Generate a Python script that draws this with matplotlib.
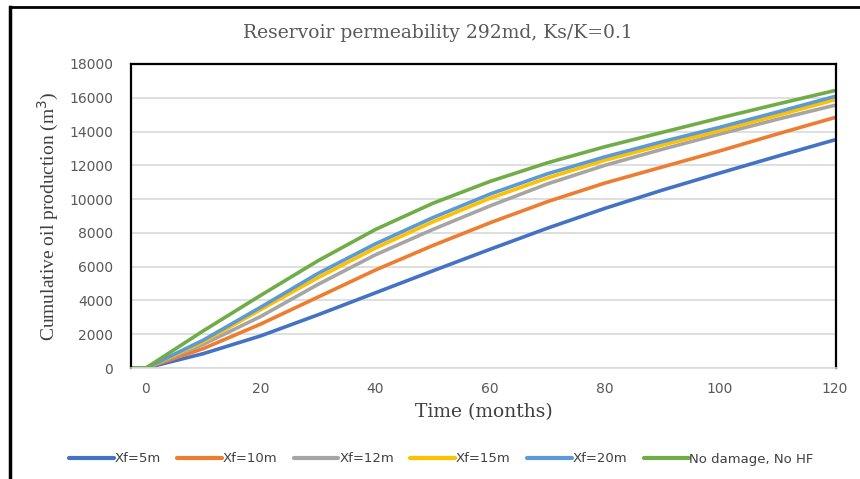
import matplotlib
matplotlib.use("Agg")
import matplotlib.pyplot as plt
from matplotlib.lines import Line2D

time = [-2.6, 0, 10, 20, 30, 40, 50, 60, 70, 80, 90, 100, 110, 120]
xf5 = [0, 0, 850, 1900, 3150, 4450, 5750, 7030, 8280, 9450, 10530, 11540, 12530, 13500]
xf10 = [0, 0, 1150, 2600, 4200, 5800, 7250, 8600, 9850, 10950, 11900, 12850, 13850, 14820]
xf12 = [0, 0, 1400, 3050, 4950, 6700, 8200, 9600, 10900, 12000, 12950, 13850, 14720, 15550]
xf15 = [0, 0, 1550, 3450, 5350, 7100, 8650, 10050, 11250, 12300, 13200, 14050, 14950, 15870]
xf20 = [0, 0, 1650, 3600, 5600, 7350, 8900, 10300, 11500, 12500, 13400, 14250, 15150, 16070]
nodmg = [0, 0, 2200, 4300, 6350, 8200, 9750, 11050, 12150, 13100, 13950, 14800, 15620, 16420]

labels = ["Xf=5m", "Xf=10m", "Xf=12m", "Xf=15m", "Xf=20m", "No damage, No HF"]
colors = ["#4472C4", "#ED7D31", "#A5A5A5", "#FFC000", "#5B9BD5", "#70AD47"]
series = [xf5, xf10, xf12, xf15, xf20, nodmg]
xticks = [0, 20, 40, 60, 80, 100, 120]
yticks = list(range(0, 18001, 2000))

fig = plt.figure(figsize=(8.6, 4.79), dpi=100)
ax = fig.add_axes([131/860, 1-368/479, (836-131)/860, (368-64)/479])

for y, c, lab in zip(series, colors, labels):
    ax.plot(time, y, color=c, lw=2.6, label=lab, solid_capstyle="round")

ax.set_xlim(-2.6, 120.3)
ax.set_ylim(0, 18000)
ax.set_xticks(xticks)
ax.set_yticks(yticks)
ax.grid(axis="y", color="#d9d9d9", lw=1.2)
ax.set_axisbelow(True)
ax.tick_params(length=0, colors="#595959", labelsize=10)
for lab in ax.get_xticklabels() + ax.get_yticklabels():
    lab.set_family("DejaVu Sans")
ax.tick_params(axis="x", pad=10)
ax.tick_params(axis="y", pad=13)
for s in ["left", "top", "right"]:
    ax.spines[s].set_color("black")
    ax.spines[s].set_linewidth(1.6)
ax.spines["bottom"].set_color("#d9d9d9")
ax.spines["bottom"].set_linewidth(1.2)

ax.set_xlabel("Time (months)", family="DejaVu Serif", fontsize=13.5, color="#404040", labelpad=5)
ax.set_ylabel("Cumulative oil production (m$^3$)", family="Liberation Serif", fontsize=14,
              color="#404040", labelpad=6)
fig.text(0.509, 0.931, "Reservoir permeability 292md, Ks/K=0.1", family="DejaVu Serif",
         fontsize=13.5, color="#595959", ha="center", va="center")

leg = fig.legend(loc="center", bbox_to_anchor=(0.513, 1-459/479), ncol=6, frameon=False,
                 prop={"family": "DejaVu Sans", "size": 9.5}, handlelength=3.4, columnspacing=1.25,
                 handletextpad=0.05)
for t in leg.get_texts():
    t.set_color("#404040")
for h in leg.get_lines():
    h.set_linewidth(3)

# outer border (left and top)
fig.add_artist(Line2D([10/860, 10/860], [0, 1-7/479], color="black", lw=2.5, transform=fig.transFigure))
fig.add_artist(Line2D([10/860, 1], [1-7/479, 1-7/479], color="black", lw=2.0, transform=fig.transFigure))

fig.savefig("out.png", dpi=100)
